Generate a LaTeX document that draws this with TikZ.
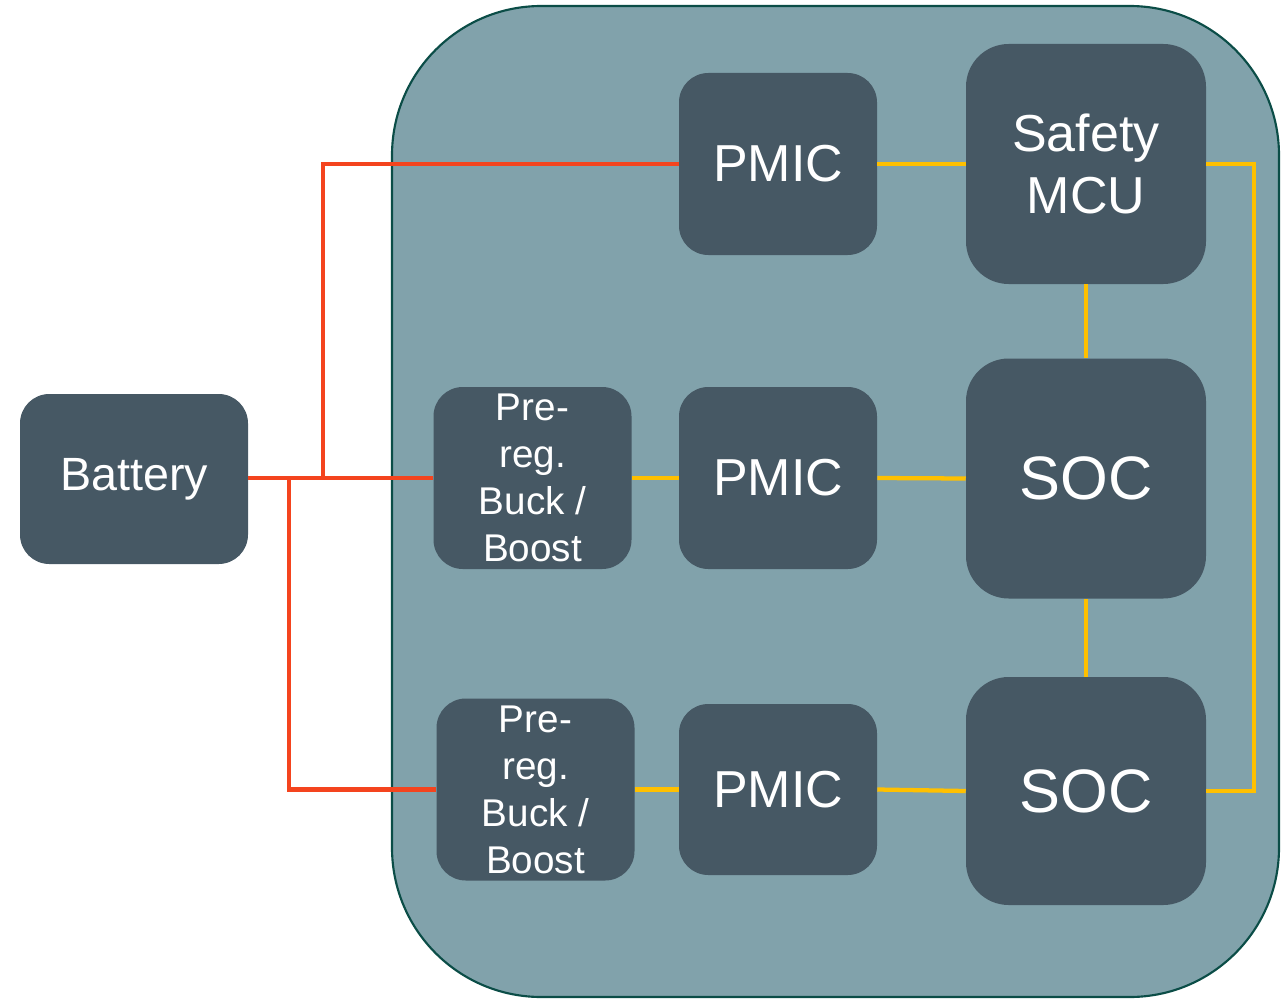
\documentclass[tikz,border=0pt]{standalone}
\usepackage{fontspec}
\setmainfont{Liberation Sans}
\usepackage{tikz}
\usetikzlibrary{positioning, calc}

\definecolor{boardfill}{HTML}{81A2AB}
\definecolor{boardline}{HTML}{0B4D47}
\definecolor{blockfill}{HTML}{465864}
\definecolor{powerred}{HTML}{F4441E}
\definecolor{signalyellow}{HTML}{FFC000}

\begin{document}
\begin{tikzpicture}[
			x = 0.75pt,
			y = -0.75pt,
			block/.style = {rectangle, rounded corners=22pt, fill=blockfill, text=white,
				align=center, inner sep=0pt, minimum width=148.5pt, minimum height=136.5pt,
				font=\fontsize{39}{46.8}\selectfont},
			bigblock/.style = {block, rounded corners=32pt, minimum width=180pt, minimum height=180pt},
			prereg/.style = {block, font=\fontsize{29}{35.2}\selectfont},
			power/.style = {draw=powerred, line width=3.2pt},
			signal/.style = {draw=signalyellow, line width=3.2pt}
			]
			
			\useasboundingbox (0,0) rectangle (1281,999);
			
			% Board
			\draw[boardline, fill=boardfill, line width=1.6pt, rounded corners=112pt]
				(392,6) rectangle (1279,997);
			
			% Define blocks
			\node[block, minimum width=171pt, minimum height=127.5pt, font=\fontsize{35}{42}\selectfont]
				(battery) at (134,479) {Battery};
			\node[block] (pmicA) at (778,164) {PMIC};
			\node[bigblock] (safety) at (1086,164) {Safety\\MCU};
			\node[prereg] (preA) at (532.5,478) {Pre-\\reg.\\Buck /\\Boost};
			\node[block] (pmicB) at (778,478) {PMIC};
			\node[bigblock, font=\fontsize{46}{55}\selectfont] (socA) at (1086,478.5) {SOC};
			\node[prereg] (preB) at (535.5,789.5) {Pre-\\reg.\\Buck /\\Boost};
			\node[block, minimum height=128.25pt] (pmicC) at (778,789.5) {PMIC};
			\node[bigblock, minimum height=171pt, font=\fontsize{46}{55}\selectfont] (socB) at (1086,791) {SOC};
			
			% Battery feed
			\coordinate (splitA) at (323,478);
			\coordinate (splitB) at (289,478);
			\draw[power] (battery.east |- preA.west) -- (preA.west);
			\draw[power] (splitA) |- (pmicA.west);
			\draw[power] (splitB) |- (preB.west);
			
			% Signal lines
			\coordinate (bus) at (1254,164);
			\draw[signal] (preA.east) -- (pmicB.west);
			\draw[signal] (preB.east) -- (pmicC.west);
			\draw[signal] (pmicA.east) -- (safety.west |- pmicA.east);
			\draw[signal] (pmicB.east) -- (socA.west);
			\draw[signal] (pmicC.east) -- (socB.west);
			\draw[signal] (safety.south) -- (socA.north);
			\draw[signal] (socA.south) -- (socB.north);
			\draw[signal] (safety.east |- bus) -- (bus) |- (socB.east);
			
		\end{tikzpicture}
\end{document}
